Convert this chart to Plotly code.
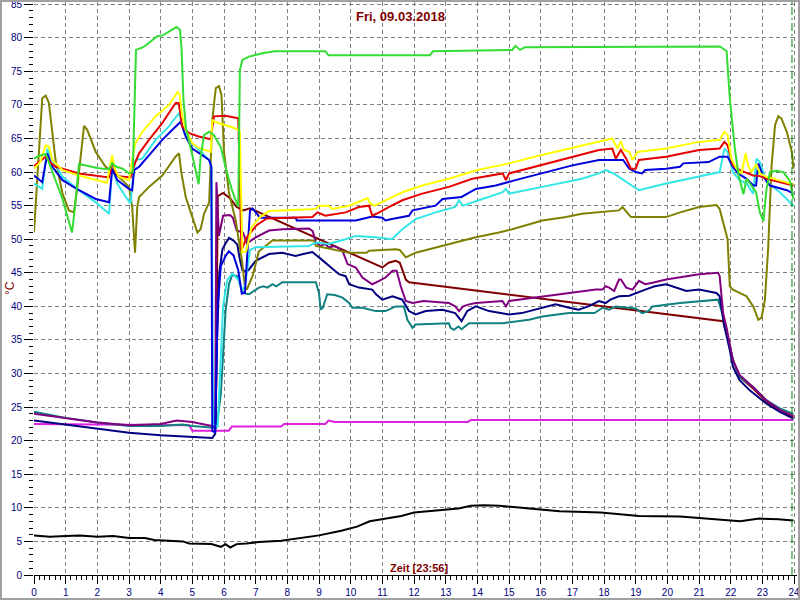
import plotly.graph_objects as go

# ---------------- data (hours, °C) ----------------
t_green = [0.0, 0.15, 0.37, 0.5, 0.7, 0.9, 1.2, 1.3, 1.42, 1.6, 2.0, 2.37, 2.47, 2.6, 2.8, 3.0, 3.12, 3.22, 3.45, 3.56,
           3.88, 4.08, 4.19, 4.4, 4.5, 4.61, 4.66, 4.72, 4.8, 5.0, 5.2, 5.26, 5.37, 5.53, 5.68, 5.9, 6.05, 6.26, 6.45, 6.5,
           6.58, 6.79, 7.21, 7.6, 9.2, 9.3, 12.5, 12.6, 15.1, 15.2, 15.35, 15.5, 21.66, 21.87, 21.97, 22.13, 22.25, 22.4, 22.5, 22.65,
           22.8, 22.92, 23.03, 23.13, 23.24, 23.45, 23.66, 23.87, 23.98]
v_green = [62.0, 62.4, 62.7, 61.0, 58.5, 56.0, 51.0, 55.0, 61.2, 61.0, 60.6, 60.4, 61.3, 60.8, 60.5, 59.8, 60.0, 78.2, 78.6, 79.0,
           80.2, 80.4, 80.7, 81.3, 81.6, 81.2, 78.3, 70.7, 66.5, 62.5, 58.2, 62.2, 65.5, 66.0, 65.5, 63.7, 60.7, 57.2, 54.8, 75.2,
           76.7, 77.2, 77.7, 78.0, 78.0, 77.4, 77.4, 78.0, 78.2, 78.8, 78.2, 78.6, 78.7, 78.0, 71.0, 63.5, 59.5, 56.7, 59.0, 58.0,
           57.0, 54.0, 52.7, 57.5, 60.0, 60.2, 60.0, 58.7, 56.0]

t_yellow = [0.0, 0.2, 0.37, 0.47, 0.58, 0.9, 1.42, 1.95, 2.3, 2.47, 2.55, 2.68, 3.0, 3.1, 3.2, 3.42, 3.84, 4.26, 4.53, 4.6,
            4.68, 4.79, 5.0, 5.2, 5.58, 5.63, 5.7, 6.37, 6.5, 6.58, 6.7, 6.87, 7.14, 7.42, 8.9, 9.0, 9.3, 9.42, 9.95, 10.37,
            10.53, 10.63, 10.75, 11.2, 11.63, 12.26, 12.9, 13.1, 14.0, 15.0, 16.0, 17.0, 17.84, 18.26, 18.42, 18.53, 18.63, 18.8, 18.9, 19.06,
            19.96, 21.0, 21.65, 21.8, 21.9, 22.02, 22.18, 22.34, 22.47, 22.55, 22.65, 22.81, 22.92, 23.13, 23.5, 23.98]
v_yellow = [60.5, 61.5, 64.0, 63.8, 61.8, 60.3, 59.5, 58.9, 58.4, 62.5, 60.5, 59.3, 58.8, 61.8, 64.3, 66.0, 68.3, 70.0, 71.9, 71.5,
            68.3, 66.3, 64.3, 63.6, 63.0, 67.8, 67.5, 66.5, 66.0, 48.0, 48.2, 51.8, 53.3, 54.2, 54.5, 55.0, 55.0, 54.5, 55.0, 55.8,
            56.1, 55.3, 55.0, 56.0, 57.0, 58.0, 58.8, 59.0, 60.3, 61.3, 62.5, 63.6, 64.6, 65.0, 63.5, 64.6, 63.3, 63.0, 61.8, 63.0,
            63.5, 64.5, 64.8, 66.0, 65.5, 62.0, 60.5, 59.8, 62.8, 61.0, 60.0, 61.2, 59.8, 59.3, 58.8, 58.2]

t_red = [0.0, 0.37, 0.5, 0.68, 1.42, 2.37, 2.47, 2.57, 2.68, 3.05, 3.16, 3.32, 3.63, 4.05, 4.47, 4.57, 4.68, 4.9, 5.2, 5.58,
         5.68, 6.05, 6.45, 6.55, 6.72, 7.03, 7.35, 8.79, 8.95, 9.2, 9.84, 10.26, 10.58, 10.68, 10.9, 11.2, 11.63, 12.26, 13.1, 13.84,
         14.8, 14.9, 15.0, 16.0, 17.0, 17.84, 18.26, 18.37, 18.53, 18.7, 18.85, 19.0, 19.1, 19.96, 21.0, 21.65, 21.8, 21.9, 22.07, 22.28,
         22.71, 22.92, 23.13, 23.98]
v_red = [60.9, 62.3, 61.5, 60.8, 59.8, 59.2, 61.5, 60.0, 59.4, 59.2, 61.0, 62.8, 64.8, 67.3, 70.3, 70.3, 66.8, 65.8, 65.3, 64.9,
         68.3, 68.4, 68.0, 48.4, 50.3, 52.1, 53.1, 53.3, 54.0, 53.5, 54.0, 54.8, 55.0, 53.5, 54.0, 54.8, 55.8, 56.8, 57.8, 59.0,
         59.8, 58.8, 59.8, 61.0, 62.3, 63.3, 63.5, 62.0, 63.3, 62.0, 60.5, 60.5, 61.8, 62.3, 63.3, 63.5, 64.5, 64.0, 61.0, 60.3,
         59.5, 59.4, 59.0, 58.0]

t_blue = [0.0, 0.26, 0.42, 0.58, 0.9, 1.42, 1.95, 2.37, 2.47, 2.63, 3.0, 3.1, 3.16, 3.32, 3.63, 4.05, 4.37, 4.63, 4.79, 5.0,
          5.32, 5.53, 5.6, 5.63, 5.72, 5.8, 5.9, 6.05, 6.15, 6.3, 6.45, 6.56, 6.66, 6.75, 6.82, 6.9, 7.14, 8.26, 8.3, 10.16,
          10.68, 11.0, 11.1, 11.3, 11.84, 11.95, 12.68, 12.9, 13.5, 13.95, 14.58, 15.2, 16.0, 17.0, 17.84, 18.6, 18.8, 19.0, 19.2, 19.3,
          19.96, 20.4, 20.5, 21.3, 21.65, 21.9, 22.07, 22.23, 22.5, 22.71, 22.8, 22.87, 23.03, 23.24, 23.77, 23.98]
v_blue = [59.5, 58.5, 62.8, 60.8, 58.8, 57.3, 56.0, 55.5, 60.5, 58.8, 57.5, 57.3, 60.3, 60.8, 62.5, 64.8, 66.3, 67.5, 65.3, 63.5,
          62.5, 61.8, 60.8, 21.5, 21.2, 40.0, 46.0, 47.5, 48.2, 47.6, 45.4, 41.9, 42.0, 50.0, 54.3, 54.6, 53.2, 53.2, 52.8, 52.8,
          53.4, 53.2, 52.8, 53.0, 53.5, 54.3, 55.0, 56.0, 56.3, 57.5, 58.0, 58.8, 59.8, 61.0, 61.8, 61.8, 60.5, 60.0, 59.8, 60.3,
          60.5, 60.8, 61.3, 61.5, 62.3, 62.3, 60.8, 59.8, 59.0, 58.0, 58.0, 61.3, 59.3, 58.0, 57.3, 56.8]

t_cyan = [0.0, 0.26, 0.42, 0.58, 0.9, 1.42, 1.95, 2.37, 2.47, 2.63, 2.9, 3.05, 3.13, 3.2, 3.42, 3.84, 4.26, 4.58, 4.68, 4.9,
          5.1, 5.53, 5.6, 5.66, 5.8, 5.88, 5.97, 6.1, 6.26, 6.45, 6.58, 6.66, 6.82, 7.0, 8.68, 8.9, 9.3, 9.84, 10.16, 10.79,
          11.3, 11.63, 12.05, 12.68, 13.3, 13.42, 13.55, 14.16, 14.8, 14.9, 15.0, 16.05, 17.3, 17.84, 18.05, 18.3, 18.9, 19.1, 19.96, 21.0,
          21.65, 21.8, 21.9, 22.07, 22.28, 22.5, 22.71, 22.81, 22.92, 23.13, 23.55, 23.98]
v_cyan = [58.3, 57.5, 63.5, 61.8, 59.3, 57.3, 55.5, 53.8, 60.8, 58.3, 56.3, 55.3, 59.3, 61.8, 62.0, 64.8, 66.8, 68.8, 66.8, 64.8,
          63.8, 61.8, 60.8, 22.5, 22.0, 30.0, 40.0, 43.9, 44.9, 44.0, 42.4, 43.0, 48.4, 48.8, 49.0, 49.5, 49.3, 50.0, 50.5, 50.3,
          50.0, 51.5, 53.0, 54.0, 54.8, 55.8, 55.0, 56.0, 57.0, 57.5, 56.8, 57.8, 59.0, 59.8, 60.3, 59.8, 58.0, 57.3, 58.3, 59.3,
          60.0, 63.5, 63.0, 60.0, 58.8, 58.3, 56.8, 62.0, 61.5, 58.5, 57.0, 55.0]

t_olive = [0.0, 0.1, 0.26, 0.37, 0.47, 0.68, 0.9, 1.1, 1.26, 1.37, 1.47, 1.58, 1.68, 1.95, 2.26, 2.5, 2.79, 3.0, 3.1, 3.19,
           3.26, 3.32, 3.63, 4.05, 4.47, 4.58, 4.65, 4.79, 5.0, 5.16, 5.26, 5.37, 5.53, 5.63, 5.74, 5.84, 5.92, 6.0, 6.16, 6.37,
           6.56, 6.66, 6.72, 6.9, 7.1, 7.42, 7.53, 8.84, 8.9, 9.95, 10.5, 10.58, 11.42, 11.55, 11.74, 12.05, 12.68, 13.1, 13.95, 14.68,
           15.1, 16.05, 16.8, 17.3, 18.47, 18.58, 18.85, 19.96, 20.4, 21.0, 21.55, 21.65, 21.8, 21.9, 21.97, 22.07, 22.28, 22.5, 22.71, 22.87,
           22.97, 23.08, 23.18, 23.29, 23.4, 23.5, 23.6, 23.77, 23.93, 23.98]
v_olive = [51.0, 59.3, 71.0, 71.4, 70.3, 61.8, 56.8, 54.3, 54.0, 57.8, 61.8, 66.9, 66.3, 63.0, 60.8, 60.0, 58.8, 57.8, 54.8, 48.0,
           54.8, 56.3, 57.8, 59.5, 62.3, 62.8, 60.0, 56.3, 53.3, 51.0, 51.5, 53.8, 55.5, 67.8, 72.5, 72.8, 71.5, 63.0, 56.8, 52.8,
           47.0, 43.0, 42.5, 44.5, 48.2, 49.3, 49.8, 49.8, 49.0, 48.0, 48.0, 48.3, 48.5, 48.4, 47.3, 48.0, 48.8, 49.3, 50.3, 51.0,
           51.5, 52.8, 53.3, 53.8, 54.3, 54.8, 53.3, 53.3, 54.0, 54.8, 55.1, 54.5, 52.0, 50.0, 43.0, 42.5, 42.0, 41.5, 40.0, 38.0,
           38.3, 41.0, 48.5, 61.0, 67.0, 68.3, 68.0, 66.0, 63.0, 60.5]

t_maroon = [5.74, 5.8, 5.97, 6.19, 6.4, 6.61, 6.82, 11.0, 11.2, 11.42, 11.55, 11.74, 11.84, 21.76,
            21.9, 22.07, 22.28, 22.7, 23.13, 23.55, 23.98]
v_maroon = [22.0, 56.4, 56.9, 56.1, 54.8, 54.3, 54.6, 45.8, 46.5, 46.8, 46.5, 44.0, 43.6, 37.8,
            35.5, 32.0, 29.5, 27.8, 25.8, 24.4, 23.5]

t_purple = [0.0, 1.0, 2.0, 3.0, 4.0, 4.5, 5.0, 5.5, 5.72, 5.76, 5.8, 5.84, 5.97, 6.19, 6.28, 6.4, 6.6, 6.72, 6.85, 7.0,
            7.42, 7.84, 8.68, 8.8, 8.9, 9.05, 9.2, 9.3, 9.5, 9.74, 9.9, 10.16, 10.37, 10.68, 10.9, 11.1, 11.32, 11.45, 11.58, 11.74,
            11.95, 12.3, 13.1, 13.3, 13.42, 13.55, 13.74, 13.95, 14.79, 14.9, 15.0, 15.84, 16.89, 17.74, 17.95, 18.05, 18.16, 18.32, 18.47, 18.53,
            18.7, 18.9, 19.1, 19.3, 19.5, 19.96, 21.0, 21.6, 21.65, 21.76, 21.86, 22.07, 22.28, 22.7, 23.13, 23.55, 23.98]
v_purple = [24.0, 23.3, 22.7, 22.3, 22.5, 23.0, 22.8, 22.3, 22.1, 58.5, 55.0, 50.5, 53.5, 53.6, 53.2, 51.3, 51.0, 49.4, 49.8, 50.3,
            51.3, 51.5, 51.6, 51.2, 49.5, 49.0, 49.3, 48.8, 49.0, 48.3, 46.3, 45.8, 44.3, 43.3, 43.8, 44.3, 45.3, 45.3, 43.0, 40.8,
            40.5, 40.8, 40.5, 40.0, 39.3, 40.0, 40.3, 40.5, 40.8, 40.0, 40.8, 41.3, 42.0, 42.5, 42.5, 43.0, 42.8, 42.3, 44.0, 44.0,
            42.8, 42.5, 43.8, 43.3, 43.5, 44.0, 44.8, 45.0, 44.5, 39.0, 37.0, 32.0, 29.8, 28.0, 26.0, 24.6, 23.7]

t_navy = [0.0, 1.0, 2.0, 3.0, 4.0, 5.0, 5.63, 5.72, 5.78, 5.85, 5.95, 6.05, 6.16, 6.3, 6.42, 6.5, 6.58, 6.72, 6.79, 7.0,
          7.42, 7.84, 8.05, 8.26, 8.5, 8.79, 9.0, 9.32, 9.63, 9.84, 9.95, 10.26, 10.68, 10.8, 11.0, 11.32, 11.63, 11.84, 12.05, 12.37,
          12.9, 13.3, 13.5, 13.68, 13.95, 14.37, 15.0, 15.4, 15.84, 16.47, 16.9, 17.2, 17.5, 17.84, 18.05, 18.2, 18.47, 18.8, 19.3, 19.6,
          19.96, 20.3, 20.6, 21.0, 21.55, 21.65, 21.8, 21.97, 22.07, 22.28, 22.6, 23.13, 23.55, 23.98]
v_navy = [23.0, 22.4, 21.7, 21.2, 20.8, 20.5, 20.4, 21.0, 35.0, 45.0, 48.5, 49.4, 50.2, 49.8, 49.2, 47.0, 45.4, 45.2, 45.5, 46.8,
          47.8, 48.0, 47.8, 47.5, 47.8, 48.1, 47.3, 46.0, 44.8, 44.5, 43.3, 42.8, 42.5, 41.8, 41.0, 41.5, 41.0, 39.3, 38.8, 39.3,
          39.5, 39.0, 37.8, 39.3, 40.0, 39.3, 38.8, 39.0, 39.5, 40.3, 39.8, 39.5, 40.0, 40.8, 40.5, 41.0, 41.5, 41.6, 42.5, 43.0,
          43.3, 42.8, 42.3, 42.5, 42.0, 41.5, 37.0, 33.5, 31.0, 29.0, 27.5, 25.5, 24.3, 23.3]

t_teal = [0.0, 1.0, 2.0, 3.0, 4.0, 4.68, 5.0, 5.74, 5.82, 5.9, 6.05, 6.16, 6.26, 6.42, 6.58, 6.68, 6.79, 7.1, 7.25, 7.37,
          7.53, 7.65, 7.84, 8.9, 9.0, 9.05, 9.12, 9.26, 9.5, 9.74, 9.95, 10.05, 10.37, 10.79, 11.1, 11.42, 11.68, 11.79, 11.95, 12.05,
          13.1, 13.15, 13.26, 13.4, 13.5, 13.74, 14.79, 15.63, 16.05, 16.89, 17.7, 17.95, 18.16, 18.37, 19.0, 19.2, 19.4, 19.53, 20.4, 21.0,
          21.6, 21.7, 21.8, 21.9, 22.07, 22.28, 22.71, 23.13, 23.55, 23.98]
v_teal = [24.3, 23.4, 22.7, 22.2, 22.2, 22.4, 22.2, 21.9, 24.0, 27.0, 39.4, 43.4, 44.7, 44.5, 42.2, 41.9, 41.8, 42.8, 43.0, 42.8,
          43.3, 43.0, 43.6, 43.6, 42.0, 39.5, 39.8, 41.8, 41.7, 41.3, 40.5, 39.8, 39.8, 39.3, 39.3, 40.0, 40.0, 38.0, 36.8, 37.3,
          37.5, 36.8, 36.5, 37.0, 36.6, 37.5, 37.5, 38.0, 38.5, 39.0, 39.0, 39.8, 39.5, 40.0, 39.7, 39.0, 39.3, 40.0, 40.5, 40.7,
          41.0, 39.5, 37.5, 35.5, 32.0, 29.5, 28.0, 26.0, 24.8, 24.0]

t_magenta = [0.0, 4.9, 5.0, 6.15, 6.25, 7.8, 7.9, 9.2, 9.3, 9.5, 13.7, 13.8, 23.98]
v_magenta = [22.5, 22.3, 21.5, 21.5, 22.1, 22.1, 22.5, 22.5, 23.0, 22.8, 22.8, 23.1, 23.1]

t_black = [0.0, 0.5, 1.0, 1.45, 2.0, 2.5, 3.0, 3.5, 3.8, 4.3, 4.7, 4.9, 5.3, 5.6, 5.9, 6.05, 6.2, 6.4, 6.7, 7.1,
           7.8, 8.4, 9.0, 9.7, 10.2, 10.6, 11.1, 11.6, 12.0, 12.5, 13.0, 13.4, 13.8, 14.2, 14.7, 15.2, 15.7, 16.6, 17.9, 19.1,
           20.4, 21.7, 22.3, 22.9, 23.5, 23.98]
v_black = [5.9, 5.7, 5.8, 5.9, 5.7, 5.8, 5.5, 5.5, 5.2, 5.1, 5.0, 4.7, 4.6, 4.6, 4.2, 4.6, 4.1, 4.6, 4.7, 4.9,
           5.1, 5.5, 5.9, 6.6, 7.2, 8.0, 8.4, 8.8, 9.3, 9.5, 9.7, 9.9, 10.3, 10.4, 10.3, 10.1, 9.9, 9.5, 9.3, 8.8,
           8.7, 8.2, 8.0, 8.4, 8.3, 8.1]

x_ticks = list(range(0, 25))
y_ticks = list(range(0, 90, 5))
title_text = "Fri, 09.03.2018"
x_title = "Zeit [23:56]"
y_title = "°C"
now_hour = 23 + 56 / 60

# ---------------- figure ----------------
series = [
    (t_magenta, v_magenta, "#e020e0"),
    (t_black, v_black, "#000000"),
    (t_maroon, v_maroon, "#800000"),
    (t_teal, v_teal, "#108080"),
    (t_navy, v_navy, "#000080"),
    (t_purple, v_purple, "#800080"),
    (t_olive, v_olive, "#808000"),
    (t_cyan, v_cyan, "#33e6e6"),
    (t_blue, v_blue, "#0000dd"),
    (t_red, v_red, "#e60000"),
    (t_yellow, v_yellow, "#ffff00"),
    (t_green, v_green, "#33dd33"),
]

fig = go.Figure()
for t, v, c in series:
    n = min(len(t), len(v))
    fig.add_trace(go.Scatter(x=t[:n], y=v[:n], mode="lines",
                             line=dict(color=c, width=2), showlegend=False,
                             hoverinfo="skip"))

W, H = 800, 600
ml, mr, mt, mb = 34, 3, 2, 25
pw, ph = W - ml - mr, H - mt - mb

fig.update_layout(
    width=W, height=H,
    margin=dict(l=ml, r=mr, t=mt, b=mb, pad=0, autoexpand=False),
    paper_bgcolor="white", plot_bgcolor="white",
    font=dict(family="Arial, Liberation Sans, sans-serif", size=10, color="#000080"),
    showlegend=False,
)
fig.update_xaxes(
    automargin=False, ticklabeloverflow="allow",
    range=[0, pw / 31.67], tickvals=x_ticks, ticktext=[str(x) for x in x_ticks],
    showgrid=True, gridcolor="#808080", gridwidth=1, griddash="4px,3px",
    zeroline=False, showline=True, linecolor="black", linewidth=1,
    ticks="outside", ticklen=8, tickcolor="black", tickwidth=1,
    tickfont=dict(size=10, color="#000080"),
    minor=dict(dtick=1 / 6, tick0=0, ticks="outside", ticklen=4, tickcolor="black", showgrid=False),
)
fig.update_yaxes(
    automargin=False, ticklabeloverflow="allow",
    range=[0, ph / 6.715], tickvals=y_ticks, ticktext=[str(y) for y in y_ticks],
    showgrid=True, gridcolor="#808080", gridwidth=1, griddash="4px,3px",
    zeroline=False, showline=False,
    ticks="outside", ticklen=9, tickcolor="black", tickwidth=1,
    tickfont=dict(size=10, color="#000080"),
    minor=dict(dtick=1, tick0=0, ticks="outside", ticklen=4, tickcolor="black", showgrid=False),
)

# current time marker
fig.add_shape(type="line", xref="x", yref="paper", x0=now_hour, x1=now_hour, y0=0, y1=1,
              line=dict(color="#008000", width=1, dash="8px,3px,2px,3px"))

# outer frame
fig.add_shape(type="rect", xref="paper", yref="paper",
              x0=(1 - ml) / pw, x1=(W - 1 - ml) / pw,
              y0=(ph + mt - (H - 1)) / ph, y1=(ph + mt - 1) / ph,
              line=dict(color="#a0a0a0", width=2), fillcolor="rgba(0,0,0,0)", layer="above")

fig.add_annotation(text=title_text, xref="paper", yref="paper",
                   x=(400 - ml) / pw, y=(ph + mt - 17) / ph, xanchor="center", yanchor="middle",
                   showarrow=False, font=dict(size=13, color="#800000", family="Arial, Liberation Sans, sans-serif", weight="bold"))
fig.add_annotation(text=x_title, xref="paper", yref="paper",
                   x=(419 - ml) / pw, y=(ph + mt - 568) / ph, xanchor="center", yanchor="middle",
                   showarrow=False, font=dict(size=11, color="#800000", family="Arial, Liberation Sans, sans-serif", weight="bold"))
fig.add_annotation(text=y_title, xref="paper", yref="paper", textangle=-90,
                   x=(10 - ml) / pw, y=(ph + mt - 288) / ph, xanchor="center", yanchor="middle",
                   showarrow=False, font=dict(size=12, color="#800000", family="Arial, Liberation Sans, sans-serif"))

fig.write_html("out.html", config={"displayModeBar": False},
               post_script="document.body.style.margin='0px';document.body.style.overflow='hidden';")
